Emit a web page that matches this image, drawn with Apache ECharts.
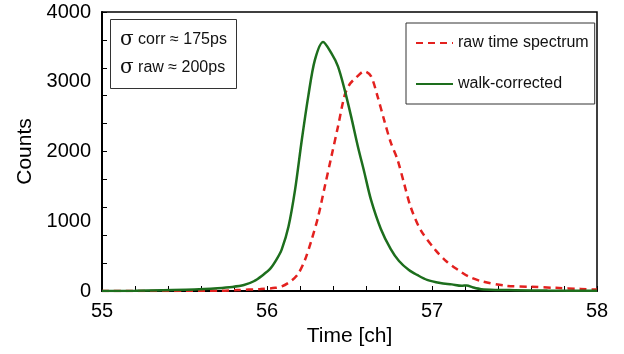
<!DOCTYPE html>
<html>
<head>
<meta charset="utf-8">
<script src="https://cdn.jsdelivr.net/npm/echarts@6/dist/echarts.min.js"></script>
<style>
html,body{margin:0;padding:0;background:#fff;}
#chart{width:624px;height:354px;}
</style>
</head>
<body>
<div id="chart"></div>
<script>
// Time [ch] and counts
var tRaw = [55.0,55.5,55.72,55.82,55.96,56.05,56.09,56.15,56.19,56.23,56.27,56.31,56.35,56.39,56.43,56.47,56.50,56.54,56.59,56.63,56.67,56.71,56.75,56.79,56.83,56.87,56.93,57.02,57.09,57.16,57.22,57.30,57.45,57.6,57.75,57.9,58.0];
var cRaw = [0,2,5,14,28,45,65,150,250,445,730,1065,1495,1925,2355,2800,2960,3060,3150,3080,2790,2450,2130,1890,1550,1210,880,590,420,300,210,140,75,60,45,30,20];

var tCorr = [55.0,55.2,55.36,55.56,55.7,55.79,55.86,55.92,55.97,56.02,56.06,56.09,56.13,56.17,56.21,56.25,56.29,56.34,56.39,56.43,56.47,56.51,56.55,56.59,56.63,56.69,56.75,56.80,56.86,56.91,56.97,57.05,57.12,57.18,57.21,57.25,57.30,57.40,57.50,57.70,58.0];
var cCorr = [0,3,12,22,40,58,85,140,220,320,460,600,920,1450,2150,2790,3310,3570,3410,3220,2890,2500,2080,1700,1310,890,600,430,300,230,160,115,95,75,80,50,25,15,12,6,3];

var seriesNames = ['raw time spectrum','walk-corrected'];
var xTicks = [55,56,57,58];
var yTicks = [0,1000,2000,3000,4000];
var annotation = ['corr \u2248 175ps','raw \u2248 200ps'];

function pairs(t,c){ return t.map(function(v,i){ return [v,c[i]]; }); }

var chart = echarts.init(document.getElementById('chart'));
var font = 'Liberation Sans, Arial, sans-serif';
chart.setOption({
  animation:false,
  backgroundColor:'#fff',
  textStyle:{fontFamily:font},
  title:{
    left:110, top:19,
    text: annotation.map(function(s){return '{s|\u03c3} '+s;}).join('\n'),
    borderColor:'#333', borderWidth:1,
    padding:[7,10,7,10],
    textStyle:{fontFamily:font,fontSize:16,fontWeight:'normal',color:'#111',lineHeight:28,
      rich:{s:{fontFamily:'DejaVu Serif, Liberation Serif, serif',fontSize:20,color:'#111',lineHeight:28}}}
  },
  legend:{
    orient:'vertical', left:406, top:23,
    borderColor:'#333', borderWidth:1,
    padding:[12,6,12,9],
    itemGap:25, itemWidth:37, itemHeight:14,
    itemStyle:{opacity:0},
    textStyle:{fontFamily:font,fontSize:16,color:'#111'},
    data:seriesNames
  },
  grid:{left:102,right:27,top:12,bottom:63,show:true,borderColor:'#000',borderWidth:1.5},
  xAxis:{
    type:'value', min:xTicks[0], max:xTicks[xTicks.length-1], interval:1,
    name:'Time [ch]', nameLocation:'middle', nameGap:31,
    nameTextStyle:{fontFamily:font,fontSize:21,color:'#000'},
    axisLine:{lineStyle:{color:'#000',width:2}},
    axisTick:{inside:true,length:5,lineStyle:{color:'#000'}},
    minorTick:{show:true,splitNumber:5,length:5,lineStyle:{color:'#000'}},
    axisLabel:{fontFamily:font,fontSize:20,color:'#000',margin:10},
    splitLine:{show:false}
  },
  yAxis:[{
    type:'value', min:yTicks[0], max:yTicks[yTicks.length-1], interval:1000,
    name:'Counts', nameLocation:'middle', nameGap:63,
    nameTextStyle:{fontFamily:font,fontSize:21,color:'#000'},
    axisLine:{show:true,lineStyle:{color:'#000',width:2}},
    axisTick:{show:false},
    axisLabel:{fontFamily:font,fontSize:20,color:'#000',margin:11,formatter:function(v){return String(v);}},
    splitLine:{show:false}
  },{
    type:'value', min:0, max:4000, interval:400, position:'left',
    axisLine:{show:false}, axisLabel:{show:false}, splitLine:{show:false},
    axisTick:{show:true,inside:true,length:5,lineStyle:{color:'#000'}}
  }],
  series:[{
    name:seriesNames[0], type:'line', data:pairs(tRaw,cRaw),
    symbol:'none', smooth:0.3,
    lineStyle:{color:'#e3211f',width:2.5,type:[7,5]},
    itemStyle:{color:'#e3211f'}
  },{
    name:seriesNames[1], type:'line', data:pairs(tCorr,cCorr),
    symbol:'none', smooth:0.3,
    lineStyle:{color:'#1d6e1d',width:2.5},
    itemStyle:{color:'#1d6e1d'}
  }]
});
</script>
</body>
</html>
